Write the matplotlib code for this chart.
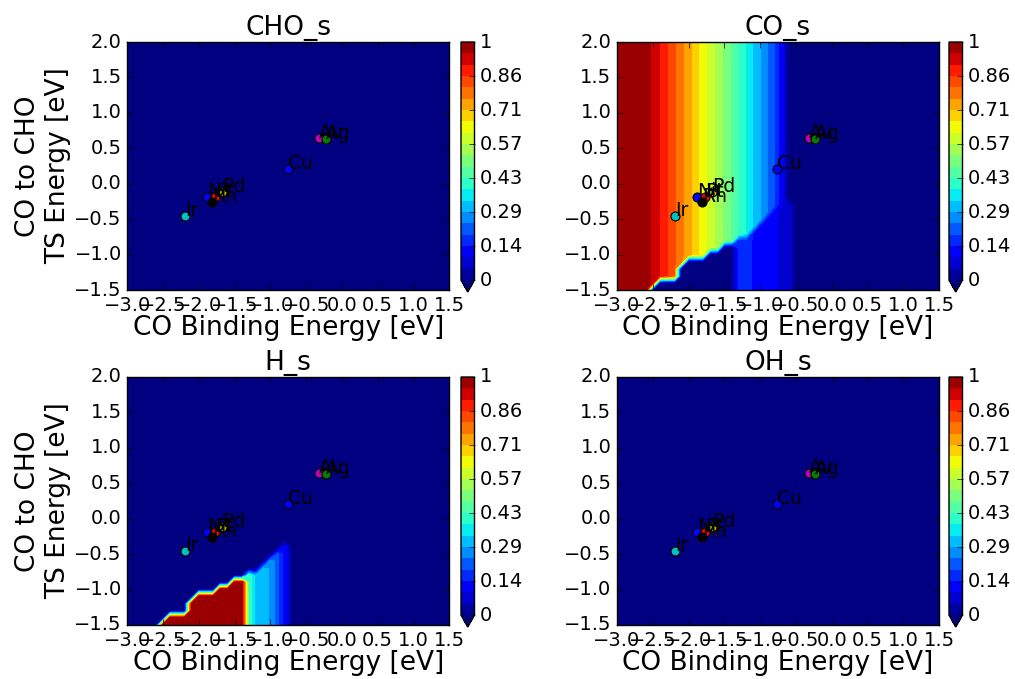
import numpy as np
import matplotlib
matplotlib.use('Agg')
import matplotlib.pyplot as plt

plt.style.use('classic')
plt.rcParams['font.family'] = ['DejaVu Sans']
plt.rcParams['savefig.facecolor'] = 'white'
plt.rcParams['figure.facecolor'] = 'white'

# ---------------- data ----------------
titles = ['CHO_s', 'CO_s', 'H_s', 'OH_s']
x_ticks = [-3.0, -2.5, -2.0, -1.5, -1.0, -0.5, 0.0, 0.5, 1.0, 1.5]
y_ticks = [-1.5, -1.0, -0.5, 0.0, 0.5, 1.0, 1.5, 2.0]
cbar_ticks = [0, 1/7, 2/7, 3/7, 4/7, 5/7, 6/7, 1]

# grid columns (CO binding energy) and rows (TS energy), 0.1 eV spacing
x_nodes = np.round(np.linspace(-3.0, 1.5, 46), 2)
y_nodes = np.round(np.linspace(-1.5, 2.0, 36), 2)

# CO coverage per column in the CO-covered regime
co_profile = [1.0, 1.0, 1.0, 1.0, 0.98, 0.939, 0.900, 0.862, 0.818, 0.774,
              0.730, 0.686, 0.643, 0.600, 0.555, 0.512, 0.468, 0.424, 0.380, 0.333,
              0.286, 0.241, 0.195, 0.111, 0.0, 0.0, 0.0, 0.0, 0.0, 0.0,
              0.0, 0.0, 0.0, 0.0, 0.0, 0.0, 0.0, 0.0, 0.0, 0.0,
              0.0, 0.0, 0.0, 0.0, 0.0, 0.0]
# top of the H-covered region per column (nan = none)
nan = float('nan')
poison_top = [nan, nan, nan, nan, nan, -1.5, -1.4, -1.4, -1.4, -1.2,
              -1.1, -1.1, -1.1, -1.0, -1.0, -0.9, -0.9, -0.8, -0.8, -0.7,
              -0.6, -0.5, -0.4, -0.3, -0.3, nan, nan, nan, nan, nan,
              nan, nan, nan, nan, nan, nan, nan, nan, nan, nan,
              nan, nan, nan, nan, nan, nan]
# CO and H coverage inside the H-covered region per column
co_poisoned = [0, 0, 0, 0, 0, 0.0, 0.0, 0.0, 0.0, 0.0,
               0.0, 0.0, 0.0, 0.0, 0.0, 0.0, 0.0, 0.15, 0.16, 0.14,
               0.12, 0.11, 0.10, 0.09, 0.07, 0, 0, 0, 0, 0,
               0, 0, 0, 0, 0, 0, 0, 0, 0, 0,
               0, 0, 0, 0, 0, 0]
h_poisoned = [0, 0, 0, 0, 0, 1.0, 1.0, 1.0, 1.0, 1.0,
              1.0, 1.0, 1.0, 1.0, 1.0, 1.0, 1.0, 0.42, 0.3, 0.3,
              0.28, 0.2, 0.12, 0.0, 0.0, 0, 0, 0, 0, 0,
              0, 0, 0, 0, 0, 0, 0, 0, 0, 0,
              0, 0, 0, 0, 0, 0]

metals = ['Ir', 'Ni', 'Pt', 'Rh', 'Pd', 'Cu', 'Au', 'Ag']
metal_be = [-2.19, -1.88, -1.77, -1.81, -1.67, -0.76, -0.32, -0.23]
metal_ts = [-0.45, -0.19, -0.19, -0.26, -0.12, 0.21, 0.64, 0.63]
metal_colors = ['c', 'b', 'r', 'k', 'y', 'b', 'm', 'g']

# --------------- assemble fields ---------------
X, Y = np.meshgrid(x_nodes, y_nodes)
top = np.array(poison_top)
mask = np.zeros_like(X, dtype=bool)
for j in range(len(x_nodes)):
    if not np.isnan(top[j]):
        mask[:, j] = y_nodes <= top[j] + 1e-9
co_field = np.where(mask, np.array(co_poisoned)[None, :], np.array(co_profile)[None, :])
h_field = np.where(mask, np.array(h_poisoned)[None, :], 0.0)
cho_field = np.zeros_like(X)
oh_field = np.zeros_like(X)
fields = [cho_field, co_field, h_field, oh_field]

# --------------- figure ---------------
W, H = 1015, 679
fig = plt.figure(figsize=(W / 100, H / 100), dpi=100)

def rect(l, t, r, b):
    return [l / W, (H - b) / H, (r - l) / W, (b - t) / H]

ax_rects = [rect(127.3, 42, 449.3, 290), rect(617, 42, 939, 290),
            rect(127.3, 377, 449.3, 625), rect(617, 377, 939, 625)]
cb_rects = [rect(461, 42, 474.5, 292), rect(949, 42, 962.5, 292),
            rect(461, 377, 474.5, 627), rect(949, 377, 962.5, 627)]

levels = np.linspace(0, 1, 22)
for k in range(4):
    ax = fig.add_axes(ax_rects[k])
    cs = ax.contourf(X, Y, fields[k], levels=levels, cmap='jet', extend='min')
    for name, bx, ty, c in zip(metals, metal_be, metal_ts, metal_colors):
        ax.scatter([bx], [ty], s=42, c=c, edgecolors='k', linewidths=0.8, zorder=3)
        ax.text(bx, ty, name, fontsize=13.5, zorder=4)
    ax.set_xlim(-3.0, 1.5)
    ax.set_ylim(-1.5, 2.0)
    ax.set_xticks(x_ticks)
    ax.set_yticks(y_ticks)
    ax.tick_params(labelsize=14)
    ax.set_title(titles[k], fontsize=19)
    ax.set_xlabel('CO Binding Energy [eV]', fontsize=19, labelpad=0)
    if k % 2 == 0:
        ax.set_ylabel('CO to CHO\nTS Energy [eV]', fontsize=19, labelpad=2)
    cax = fig.add_axes(cb_rects[k])
    cb = fig.colorbar(cs, cax=cax, ticks=cbar_ticks, format='%.2g')
    cb.ax.tick_params(labelsize=14)

fig.savefig('out.png', dpi=100)
